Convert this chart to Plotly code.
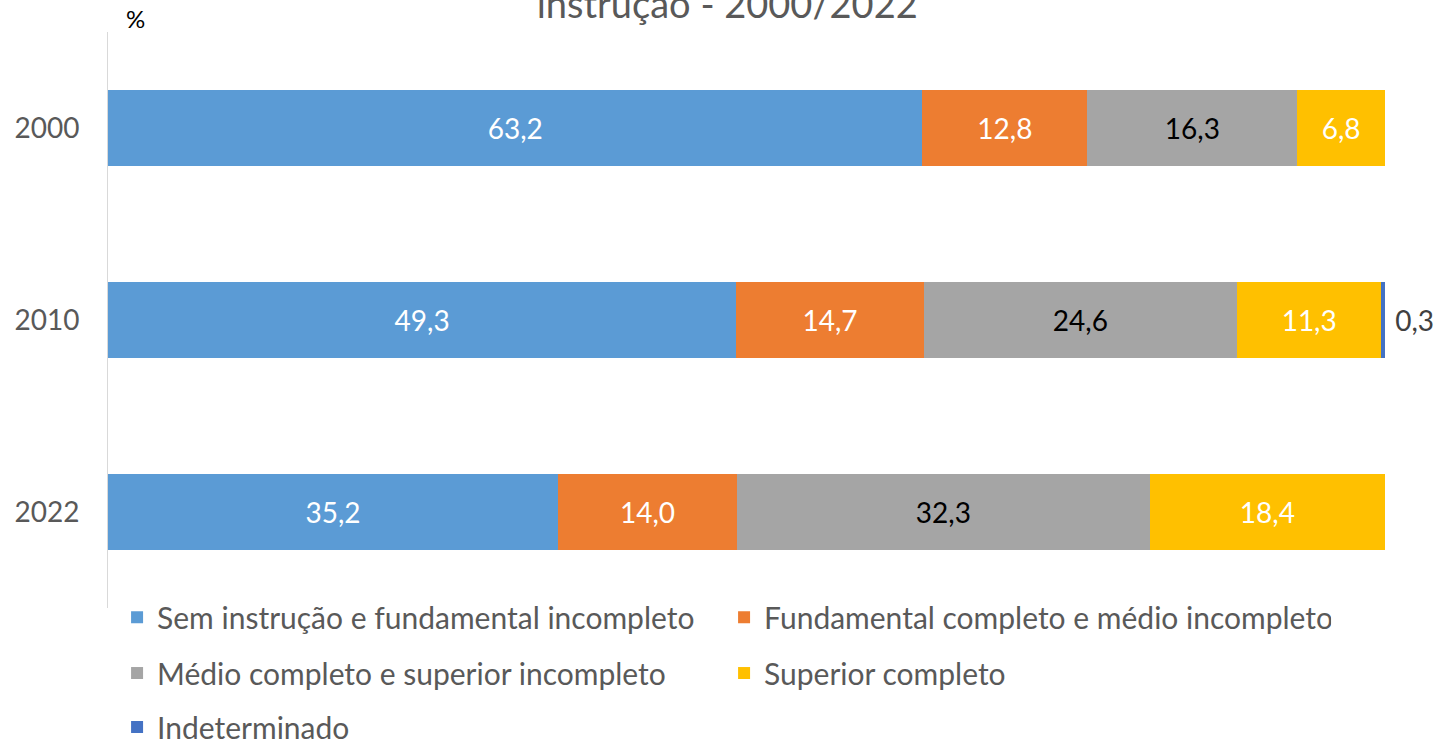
import plotly.graph_objects as go

years = ["2000", "2010", "2022"]
series_names = [
    "Sem instrução e fundamental incompleto",
    "Fundamental completo e médio incompleto",
    "Médio completo e superior incompleto",
    "Superior completo",
    "Indeterminado",
]
sem_instrucao = [63.2, 49.3, 35.2]
fundamental = [12.8, 14.7, 14.0]
medio = [16.3, 24.6, 32.3]
superior = [6.8, 11.3, 18.4]
indeterminado = [None, 0.3, None]

colors = ["#5B9BD5", "#ED7D31", "#A5A5A5", "#FFC000", "#4472C4"]
label_colors = ["white", "white", "black", "white", "#404040"]
# legend rows: 2 items, 2 items, 1 item
legend_ids = ["legend", "legend", "legend2", "legend2", "legend3"]
FONT = "Lato"

fig = go.Figure()
all_values = [sem_instrucao, fundamental, medio, superior, indeterminado]
for name, vals, col, lcol, lg in zip(series_names, all_values, colors, label_colors, legend_ids):
    last = name == "Indeterminado"
    texts = []
    for v in vals:
        if v is None:
            texts.append("")
        else:
            s = f"{v:.1f}".replace(".", ",")
            texts.append("\u00a0" + s if last else s)
    fig.add_trace(go.Bar(
        y=years, x=vals, name=name, orientation="h",
        marker=dict(color=col, line=dict(width=0)),
        text=texts,
        textposition="outside" if last else "inside",
        insidetextanchor="middle",
        textangle=0,
        textfont=dict(family=FONT, size=28, color=lcol),
        cliponaxis=False,
        hoverinfo="skip",
        legend=lg,
    ))

leg = dict(orientation="h", x=0.0813, xanchor="left", xref="container",
           yanchor="middle", yref="container",
           entrywidth=562, entrywidthmode="pixels",
           font=dict(family=FONT, size=30, color="#595959"),
           traceorder="normal", itemclick=False, bgcolor="rgba(0,0,0,0)")

fig.update_layout(
    barmode="stack",
    barnorm="percent",
    bargap=0.6,
    width=1440, height=740,
    margin=dict(l=108, r=55, t=32, b=132, autoexpand=False),
    plot_bgcolor="white", paper_bgcolor="white",
    font=dict(family=FONT, size=28, color="#595959"),
    title=dict(text="instrução - 2000/2022", x=0.505, xanchor="center",
               y=0.994, yanchor="middle", yref="container",
               font=dict(family=FONT, size=38, color="#595959")),
    showlegend=True,
    legend=dict(leg, y=0.166),
    legend2=dict(leg, y=0.0905),
    legend3=dict(leg, y=0.0176),
    annotations=[dict(text="%", xref="paper", yref="paper", x=0.0125, y=0.995,
                      xanchor="left", yanchor="bottom", showarrow=False,
                      font=dict(family=FONT, size=24, color="black"))],
)
fig.update_xaxes(range=[0, 100], visible=False, showgrid=False, zeroline=False)
fig.update_yaxes(autorange="reversed", showline=True, linecolor="#D9D9D9", linewidth=1,
                 ticks="", showgrid=False, ticklabelstandoff=22,
                 tickfont=dict(family=FONT, size=28, color="#595959"))

fig.write_html("out.html", config={"displayModeBar": False},
               post_script="document.body.style.margin='0';")
